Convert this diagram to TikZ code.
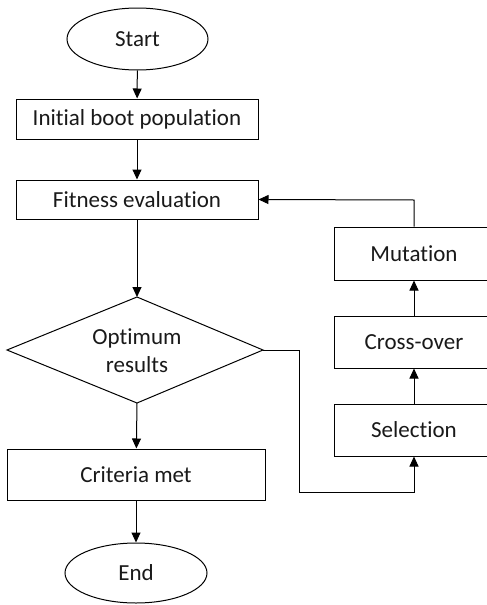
\documentclass[tikz,border=0pt]{standalone}
\usepackage{fontspec}
\setmainfont[Ligatures=NoCommon]{Carlito}
\usetikzlibrary{shapes.geometric,arrows.meta}
\begin{document}
\begin{tikzpicture}[x=1pt,y=-1pt,
  every node/.style={font=\fontsize{23}{28}\selectfont, text=black!90},
  box/.style={draw, line width=1pt, rectangle, inner sep=0pt},
  term/.style={draw, line width=1pt, ellipse, inner sep=0pt},
  arr/.style={line width=1pt, -{Triangle[length=10pt,width=9pt]}}]
\clip (0,0) rectangle (487,605);
\useasboundingbox (0,0) rectangle (487,605);
\node[term, minimum width=141pt, minimum height=62pt] (start) at (137.5,39) {Start};
\node[box, minimum width=242pt, minimum height=40pt] (init) at (137,119) {Initial boot population};
\node[box, minimum width=242pt, minimum height=39pt] (fit) at (137,199.5) {Fitness evaluation};
\coordinate (dT) at (137,297);
\coordinate (dB) at (137,403);
\coordinate (dL) at (7,350);
\coordinate (dR) at (263,350);
\draw[line width=1pt] (dT) -- (dR) -- (dB) -- (dL) -- cycle;
\node[align=center] (opt) at (137,351) {Optimum\\results};
\node[box, minimum width=258pt, minimum height=51pt] (crit) at (136,474.5) {Criteria met};
\node[term, minimum width=142pt, minimum height=60pt] (end) at (136,573) {End};
\node[box, minimum width=160pt, minimum height=53pt] (mut) at (414,253.5) {Mutation};
\node[box, minimum width=160pt, minimum height=52pt] (cross) at (414,342) {Cross-over};
\node[box, minimum width=160pt, minimum height=52pt] (sel) at (414,430) {Selection};
\draw[arr] (start) -- (init);
\draw[arr] (init) -- (fit);
\draw[arr] (fit) -- (dT);
\draw[arr] (dB) -- (crit);
\draw[arr] (crit) -- (end);
\draw[arr] (dR) -- (299,350) -- (299,492) -- (414,492) -- (sel.south);
\draw[arr] (sel) -- (cross);
\draw[arr] (cross) -- (mut);
\draw[arr] (mut.north) -- (414,200) -- (fit.east);
\end{tikzpicture}
\end{document}
